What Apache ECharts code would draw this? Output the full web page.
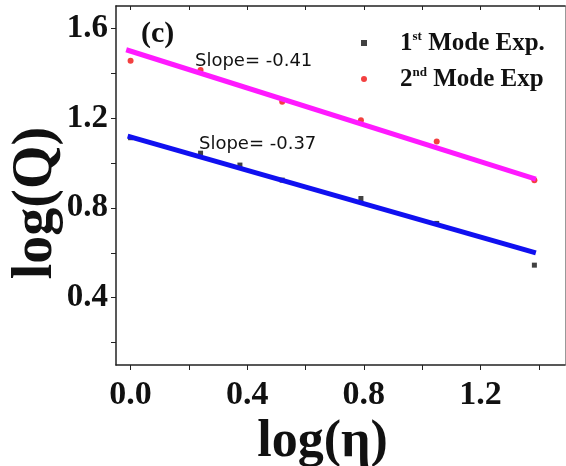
<!DOCTYPE html>
<html>
<head>
<meta charset="utf-8">
<script src="https://cdn.jsdelivr.net/npm/echarts@6/dist/echarts.min.js"></script>
<style>
  html, body { margin: 0; padding: 0; background: #fff; }
  #chart { width: 566px; height: 466px; }
</style>
</head>
<body>
<div id="chart"></div>
<script>
'use strict';
// 数据点
let mode1X = [0, 0.24, 0.375, 0.52, 0.79, 1.05, 1.385];
let mode1Y = [1.113, 1.044, 0.991, 0.924, 0.842, 0.731, 0.545];
let mode2X = [0, 0.24, 0.52, 0.79, 1.05, 1.385];
let mode2Y = [1.456, 1.415, 1.273, 1.191, 1.096, 0.923];
// 拟合线端点
let fit1X = [-0.01, 1.39];
let fit1Y = [1.12, 0.60];
let fit2X = [-0.015, 1.39];
let fit2Y = [1.505, 0.928];
let xTicks = [0, 0.2, 0.4, 0.6, 0.8, 1.0, 1.2, 1.4];
let xLabels = [0, 0.4, 0.8, 1.2];
let yTicks = [0.2, 0.4, 0.6, 0.8, 1.0, 1.2, 1.4, 1.6];
let yLabels = [0.4, 0.8, 1.2, 1.6];

function pairs(xs, ys) {
    let arr = [];
    for (let i = 0; i < xs.length; i++) {
        arr.push([xs[i], ys[i]]);
    }
    return arr;
}

let serif = '"Liberation Serif", "Times New Roman", serif';
let myChart = echarts.init(document.getElementById('chart'));

let axisLine = { show: true, onZero: false, lineStyle: { color: '#222', width: 1.5 } };

let option = {
    animation: false,
    grid: { left: 116, right: 1, top: 6, bottom: 101, outerBoundsMode: 'none' },
    legend: {
        orient: 'vertical',
        left: 356,
        top: 25,
        itemGap: 10,
        itemWidth: 6,
        itemHeight: 6,
        data: [
            { name: '1st Mode Exp.', icon: 'rect' },
            { name: '2nd Mode Exp', icon: 'circle' },
        ],
        formatter: function(name) {
            if (name === '1st Mode Exp.') {
                return '{n|1}{s|st}{n| Mode Exp.}';
            }
            return '{n|2}{s|nd}{n| Mode Exp}';
        },
        textStyle: {
            padding: [0, 0, 0, 28],
            rich: {
                n: { fontFamily: serif, fontWeight: 'bold', fontSize: 25, color: '#111', lineHeight: 26, verticalAlign: 'bottom' },
                s: { fontFamily: serif, fontWeight: 'bold', fontSize: 13, color: '#111', lineHeight: 12, verticalAlign: 'top' },
            },
        },
    },
    xAxis: [
        {
            type: 'value',
            min: -0.05,
            max: 1.49,
            position: 'bottom',
            splitLine: { show: false },
            axisLine: axisLine,
            axisTick: { show: true, inside: false, length: 5, customValues: xTicks, lineStyle: { color: '#222' } },
            axisLabel: {
                customValues: xLabels,
                formatter: function(v) { return v.toFixed(1); },
                fontFamily: serif, fontWeight: 'bold', fontSize: 34, color: '#111', margin: 13,
            },
            name: 'log(η)',
            nameLocation: 'middle',
            nameGap: 50,
            nameTextStyle: { fontFamily: serif, fontWeight: 'bold', fontSize: 52, color: '#111', padding: [0, 36, 0, 0] },
        },
        {
            type: 'value',
            min: -0.05,
            max: 1.49,
            position: 'top',
            splitLine: { show: false },
            axisLine: axisLine,
            axisTick: { show: true, inside: true, length: 4, customValues: xTicks, lineStyle: { color: '#222' } },
            axisLabel: { show: false },
        },
    ],
    yAxis: [
        {
            type: 'value',
            min: 0.1,
            max: 1.7,
            position: 'left',
            splitLine: { show: false },
            axisLine: axisLine,
            axisTick: { show: true, inside: false, length: 5, customValues: yTicks, lineStyle: { color: '#222' } },
            axisLabel: {
                customValues: yLabels,
                formatter: function(v) { return v.toFixed(1); },
                fontFamily: serif, fontWeight: 'bold', fontSize: 33, color: '#111', margin: 8,
            },
        },
        {
            type: 'value',
            min: 0.1,
            max: 1.7,
            position: 'right',
            splitLine: { show: false },
            axisLine: { show: true, onZero: false, lineStyle: { color: '#999', width: 1 } },
            axisTick: { show: false },
            axisLabel: { show: false },
        },
    ],
    series: [
        {
            name: '1st Mode Exp.',
            type: 'scatter',
            symbol: 'rect',
            symbolSize: 5,
            itemStyle: { color: '#111' },
            data: pairs(mode1X, mode1Y),
            z: 2,
        },
        {
            name: '2nd Mode Exp',
            type: 'scatter',
            symbol: 'circle',
            symbolSize: 6,
            itemStyle: { color: '#f01010' },
            data: pairs(mode2X, mode2Y),
            z: 2,
        },
        {
            name: 'fit1',
            type: 'line',
            showSymbol: false,
            lineStyle: { color: '#1010f0', width: 5 },
            data: pairs(fit1X, fit1Y),
            z: 3,
        },
        {
            name: 'fit2',
            type: 'line',
            showSymbol: false,
            lineStyle: { color: '#ff1aff', width: 5 },
            data: pairs(fit2X, fit2Y),
            z: 3,
        },
    ],
    graphic: [
        {
            type: 'text', x: 37, y: 203, rotation: Math.PI / 2, z: 10,
            style: {
                text: 'log(Q)', font: 'bold 56px ' + serif, fill: '#111',
                textAlign: 'center', textVerticalAlign: 'middle',
            },
        },
        {
            type: 'text', left: 141, top: 19, z: 10,
            style: { text: '(c)', font: 'bold 30px ' + serif, fill: '#111' },
        },
        {
            type: 'text', left: 195, top: 52, z: 10,
            style: { text: 'Slope= -0.41', font: '18px "DejaVu Sans", sans-serif', fill: '#111' },
        },
        {
            type: 'text', left: 199, top: 135, z: 10,
            style: { text: 'Slope= -0.37', font: '18px "DejaVu Sans", sans-serif', fill: '#111' },
        },
    ],
};
myChart.setOption(option);
</script>
</body>
</html>
